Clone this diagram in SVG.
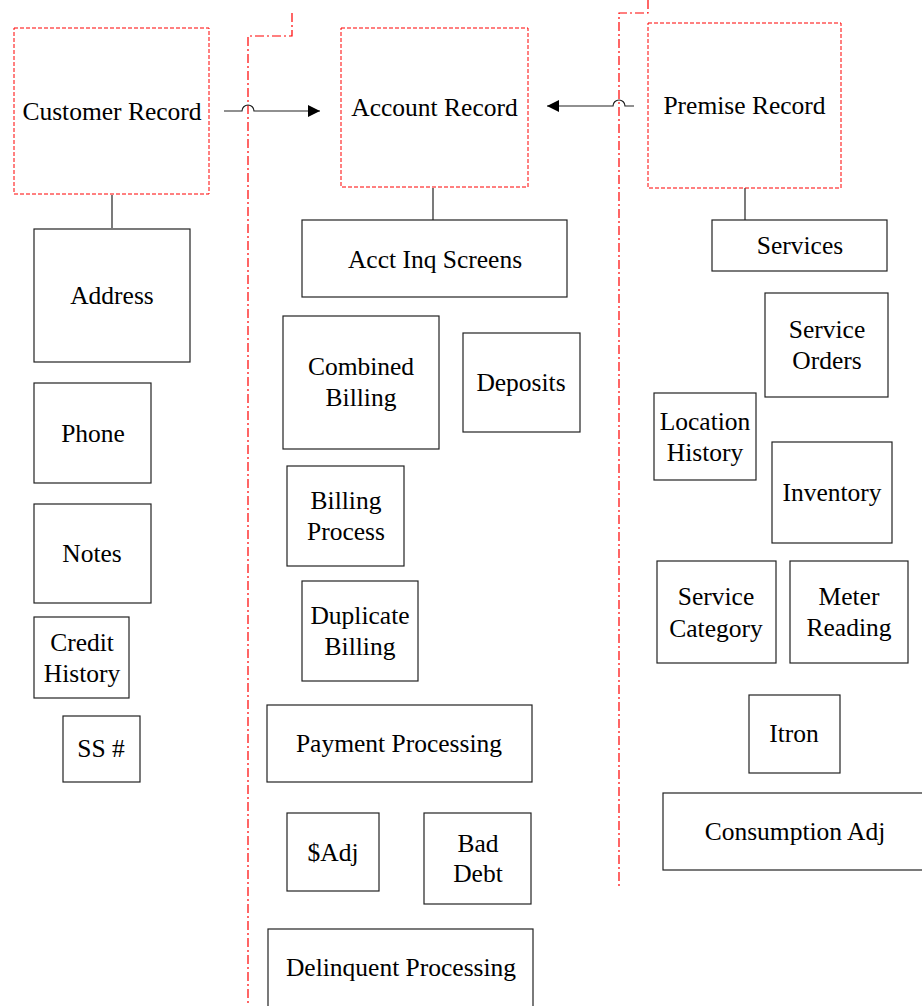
<svg xmlns="http://www.w3.org/2000/svg" width="922" height="1006" viewBox="0 0 922 1006" font-family="Liberation Serif, Times New Roman, serif">
<style>
text{font-size:25.5px;fill:#000;text-anchor:middle}
.b{fill:#fff;stroke:#222;stroke-width:1.2}
.r{fill:#fff;stroke:#f00;stroke-width:1;stroke-dasharray:4,2}
.d{fill:none;stroke:#f00;stroke-width:1.2;stroke-dasharray:9,3,2,3}
.c{fill:none;stroke:#222;stroke-width:1.2}
</style>
<defs>
<marker id="ah" viewBox="0 0 10 10" refX="10" refY="5" markerWidth="12" markerHeight="12" markerUnits="userSpaceOnUse" orient="auto">
<path d="M0,0 L10,5 L0,10 z" fill="#000"/>
</marker>
</defs>
<rect width="922" height="1006" fill="#fff"/>
<g id="dividers">
<path class="d" d="M292,13 V36 H248 V1006"/>
<path class="d" d="M648,0 V13 H619 V888"/>
</g>
<g id="connectors">
<path class="c" d="M224,111 H242 A6,6 0 0 1 254,111 H320" marker-end="url(#ah)"/>
<path class="c" d="M634,106 H625 A6,6 0 0 0 613,106 H547" marker-end="url(#ah)"/>
<path class="c" d="M112,195 V228"/>
<path class="c" d="M433,188 V220"/>
<path class="c" d="M745,188 V220"/>
</g>
<g id="customer-record"><rect class="r" x="14" y="28" width="195" height="166"/><text x="112" y="120">Customer Record</text></g>
<g id="account-record"><rect class="r" x="341" y="28" width="187" height="159"/><text x="434.5" y="116">Account Record</text></g>
<g id="premise-record"><rect class="r" x="648" y="23" width="193" height="165"/><text x="744.5" y="114">Premise Record</text></g>
<g id="address"><rect class="b" x="34" y="229" width="156" height="133"/><text x="112" y="304">Address</text></g>
<g id="phone"><rect class="b" x="34" y="383" width="117" height="100"/><text x="93" y="442">Phone</text></g>
<g id="notes"><rect class="b" x="34" y="504" width="117" height="99"/><text x="92" y="562">Notes</text></g>
<g id="credit-history"><rect class="b" x="34" y="617" width="95" height="81"/><text x="82" y="651">Credit</text><text x="82" y="682">History</text></g>
<g id="ss"><rect class="b" x="63" y="716" width="77" height="66"/><text x="101" y="757">SS #</text></g>
<g id="acct-inq"><rect class="b" x="302" y="220" width="265" height="77"/><text x="435" y="268">Acct Inq Screens</text></g>
<g id="combined-billing"><rect class="b" x="283" y="316" width="156" height="133"/><text x="361" y="375">Combined</text><text x="361" y="406">Billing</text></g>
<g id="deposits"><rect class="b" x="463" y="333" width="117" height="99"/><text x="521" y="391">Deposits</text></g>
<g id="billing-process"><rect class="b" x="287" y="466" width="117" height="100"/><text x="346" y="509">Billing</text><text x="346" y="540">Process</text></g>
<g id="duplicate-billing"><rect class="b" x="302" y="581" width="116" height="100"/><text x="360" y="624">Duplicate</text><text x="360" y="655">Billing</text></g>
<g id="payment-processing"><rect class="b" x="267" y="705" width="265" height="77"/><text x="399" y="752">Payment Processing</text></g>
<g id="adj"><rect class="b" x="287" y="813" width="92" height="78"/><text x="333" y="861">$Adj</text></g>
<g id="bad-debt"><rect class="b" x="424" y="813" width="107" height="91"/><text x="478" y="852">Bad</text><text x="478" y="882">Debt</text></g>
<g id="delinquent"><rect class="b" x="268" y="929" width="265" height="80"/><text x="401" y="976">Delinquent Processing</text></g>
<g id="services"><rect class="b" x="712" y="220" width="175" height="51"/><text x="800" y="254">Services</text></g>
<g id="service-orders"><rect class="b" x="765" y="293" width="123" height="104"/><text x="827" y="338">Service</text><text x="827" y="369">Orders</text></g>
<g id="location-history"><rect class="b" x="654" y="393" width="102" height="87"/><text x="705" y="430">Location</text><text x="705" y="461">History</text></g>
<g id="inventory"><rect class="b" x="772" y="442" width="120" height="101"/><text x="832" y="501">Inventory</text></g>
<g id="service-category"><rect class="b" x="657" y="561" width="119" height="102"/><text x="716" y="605">Service</text><text x="716" y="637">Category</text></g>
<g id="meter-reading"><rect class="b" x="790" y="561" width="118" height="102"/><text x="849" y="605">Meter</text><text x="849" y="636">Reading</text></g>
<g id="itron"><rect class="b" x="749" y="695" width="91" height="78"/><text x="794" y="742">Itron</text></g>
<g id="consumption-adj"><rect class="b" x="663" y="793" width="260" height="77"/><text x="795" y="840">Consumption Adj</text></g>
</svg>
